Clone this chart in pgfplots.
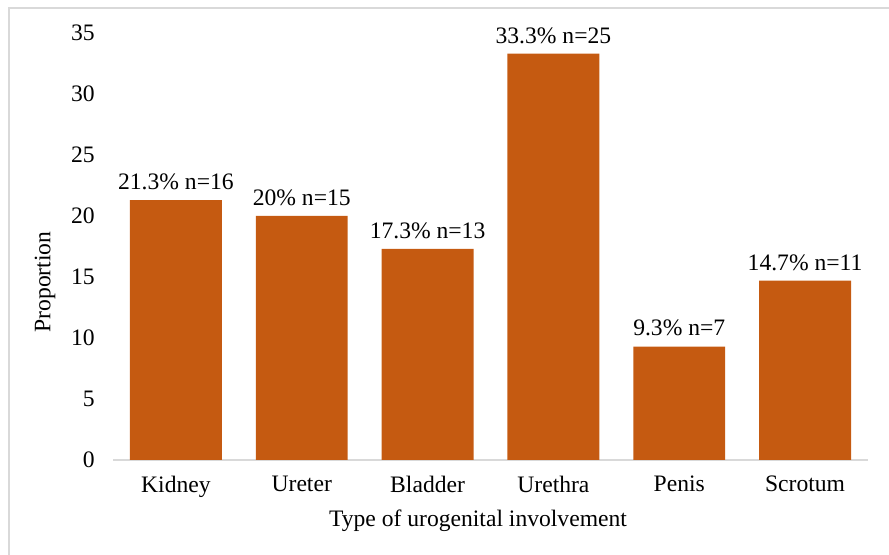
\documentclass[border=0pt]{standalone}
\usepackage{pgfplots}
\pgfplotsset{compat=1.18}
\usepackage{fontspec}
\setmainfont{Liberation Serif}
\definecolor{barc}{HTML}{C55A11}
\definecolor{axc}{HTML}{D9D9D9}
\begin{document}
\fontsize{11.8}{14}\selectfont
\begin{tikzpicture}
\useasboundingbox (-56.5pt,-47.5pt) rectangle (388pt,230pt);
\draw[axc, line width=1pt] (-52pt,-47.5pt) -- (-52pt,226pt) -- (388pt,226pt);
\begin{axis}[
  at={(0,0)}, anchor=south west,
  scale only axis, width=377.5pt, height=213.5pt,
  xmin=-0.5, xmax=5.5, ymin=0, ymax=35,
  ytick={0,5,...,35},
  xtick={0,...,5},
  xticklabels={Kidney,Ureter,Bladder,Urethra,Penis,Scrotum},
  axis y line*=left,
  axis x line*=bottom,
  y axis line style={draw=none},
  x axis line style={axc, line width=0.8pt, -},
  major tick length=0pt,
  xtick style={draw=none}, ytick style={draw=none},
  tick label style={font=\fontsize{11.8}{14}\selectfont},
  /pgf/number format/assume math mode=true,
  yticklabel style={anchor=east, xshift=-5pt},
  xticklabel style={yshift=-4pt},
  clip=false,
]
\addplot[ybar, bar width=0.73, fill=barc, draw=none,
  nodes near coords, point meta=explicit symbolic,
  every node near coord/.append style={font=\fontsize{11.8}{14}\selectfont, yshift=1pt}]
  table[meta=lab] {
x y lab
0 21.3 {21.3\%\ n=16}
1 20 {20\%\ n=15}
2 17.3 {17.3\%\ n=13}
3 33.3 {33.3\%\ n=25}
4 9.3 {9.3\%\ n=7}
5 14.7 {14.7\%\ n=11}
};
\end{axis}
\node[rotate=90] at (-34pt,89pt) {Proportion};
\node at (182.5pt,-30.5pt) {Type of urogenital involvement};
\end{tikzpicture}
\end{document}
